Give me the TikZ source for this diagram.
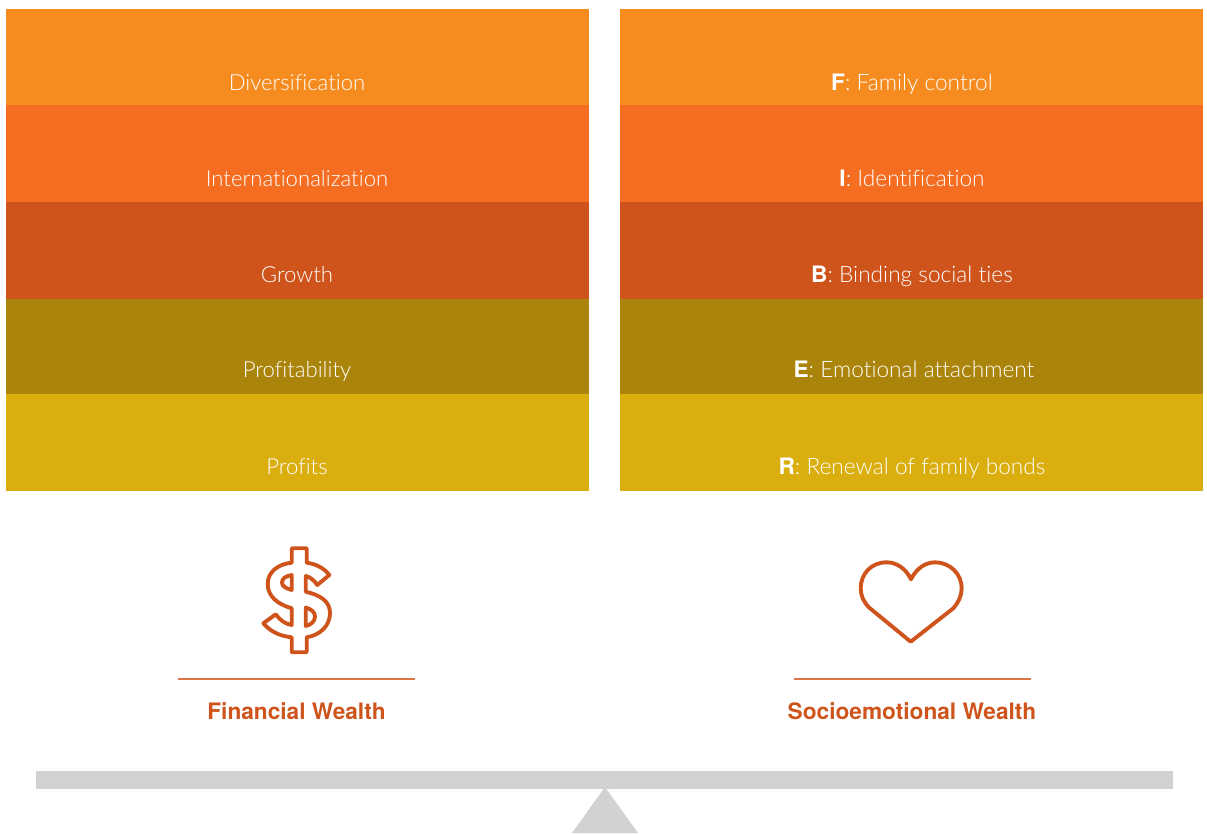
\documentclass[tikz,border=0pt]{standalone}
\usepackage{fontspec}
\setmainfont{Lato Light}[Ligatures=NoCommon,BoldFont={TeX Gyre Heros Bold}]
\definecolor{bandone}{HTML}{F68C1F}
\definecolor{bandtwo}{HTML}{F46D21}
\definecolor{bandthree}{HTML}{CE541B}
\definecolor{bandfour}{HTML}{AB850B}
\definecolor{bandfive}{HTML}{DAAE0E}
\definecolor{beamgrey}{HTML}{D1D2D4}
\tikzset{
  bandlabel/.style={anchor=base,text=white,font=\fontsize{16.6}{20}\selectfont,inner sep=0pt},
  factorlabel/.style={bandlabel,font=\fontsize{17}{20}\selectfont},
  wealthlabel/.style={anchor=base,text=bandthree,font=\fontsize{17}{20}\selectfont\bfseries,inner sep=0pt},
  iconline/.style={draw=bandthree,line width=2.9pt,line join=round},
  ruleline/.style={draw=bandthree!80,line width=0.8pt}
}
\begin{document}
\begin{tikzpicture}[x=0.75pt,y=-0.75pt]
  \useasboundingbox (0,0) rectangle (1207,833);
  % Left column
  \fill[bandone]   (6,9)   rectangle (589,105);
  \fill[bandtwo]   (6,105) rectangle (589,202);
  \fill[bandthree] (6,202) rectangle (589,299);
  \fill[bandfour]  (6,299) rectangle (589,394);
  \fill[bandfive]  (6,394) rectangle (589,491);
  % Right column
  \fill[bandone]   (620,9)   rectangle (1203,105);
  \fill[bandtwo]   (620,105) rectangle (1203,202);
  \fill[bandthree] (620,202) rectangle (1203,299);
  \fill[bandfour]  (620,299) rectangle (1203,394);
  \fill[bandfive]  (620,394) rectangle (1203,491);
  % Labels
  \node[bandlabel] (diversification) at (297,90)  {Diversification};
  \node[bandlabel] (international)   at (297,186) {Internationalization};
  \node[bandlabel] (growth)          at (297,282) {Growth};
  \node[bandlabel] (profitability)   at (297,377) {Profitability};
  \node[bandlabel] (profits)         at (297,474) {Profits};
  \node[factorlabel] (family)   at (912,90)  {\textbf{F}: Family control};
  \node[factorlabel] (identity) at (912,186) {\textbf{I}: Identification};
  \node[factorlabel] (binding)  at (912,282) {\textbf{B}: Binding social ties};
  \node[factorlabel] (emotion)  at (914,377) {\textbf{E}: Emotional attachment};
  \node[factorlabel] (renewal)  at (912,474) {\textbf{R}: Renewal of family bonds};
  % Dollar icon
  \draw[iconline] (291.7,548.3) -- (306.7,548.3) -- (306.7,562.7)
    .. controls (316,564) and (324,568) .. (329.3,575) -- (317.3,585)
    .. controls (314,580) and (310,577) .. (305.7,576) -- (305.7,591.7)
    .. controls (320,595) and (330,601) .. (330,613)
    .. controls (330,626) and (320,635) .. (306.7,637.3)
    -- (306.7,652.3) -- (291.7,652.3) -- (291.7,637.3)
    .. controls (279,636) and (270,631) .. (263.3,623.3) -- (275.7,614.3)
    .. controls (280,620) and (285,624) .. (291.7,625) -- (291.7,608.3)
    .. controls (277,604) and (267.7,596) .. (267.7,584)
    .. controls (267.7,572) and (278,564) .. (291.7,562.7) -- cycle;
  \draw[iconline] (291.7,575) -- (291.7,590)
    .. controls (285,588) and (282,586) .. (282,582.5)
    .. controls (282,579) and (285,576) .. (291.7,575) -- cycle;
  \draw[iconline] (305.7,607.5) -- (305.7,626)
    .. controls (311,625) and (315,621) .. (315,616.5)
    .. controls (315,612) and (311,609) .. (305.7,607.5) -- cycle;
  % Heart icon
  \draw[iconline] (911,579.3)
    .. controls (906,569) and (897,562.3) .. (886.7,562.3)
    .. controls (871,562.3) and (860.7,574) .. (860.7,588.3)
    .. controls (860.7,596) and (864,603) .. (870,608.3)
    -- (910.7,641.7) -- (953.3,608.3)
    .. controls (958,603) and (961.7,596) .. (961.7,588.3)
    .. controls (961.7,574) and (950,562.3) .. (935,562.3)
    .. controls (925,562.3) and (916,569) .. (911,579.3) -- cycle;
  % Rules and headings
  \draw[ruleline] (178,679) -- (415,679);
  \draw[ruleline] (794,679) -- (1031,679);
  \node[wealthlabel] (financial) at (296.5,719) {Financial Wealth};
  \node[wealthlabel] (socio)     at (912,719) {Socioemotional Wealth};
  % Balance
  \fill[beamgrey] (36,771) rectangle (1173,789);
  \fill[beamgrey] (605,787) -- (638,833) -- (572,833) -- cycle;
\end{tikzpicture}
\end{document}
